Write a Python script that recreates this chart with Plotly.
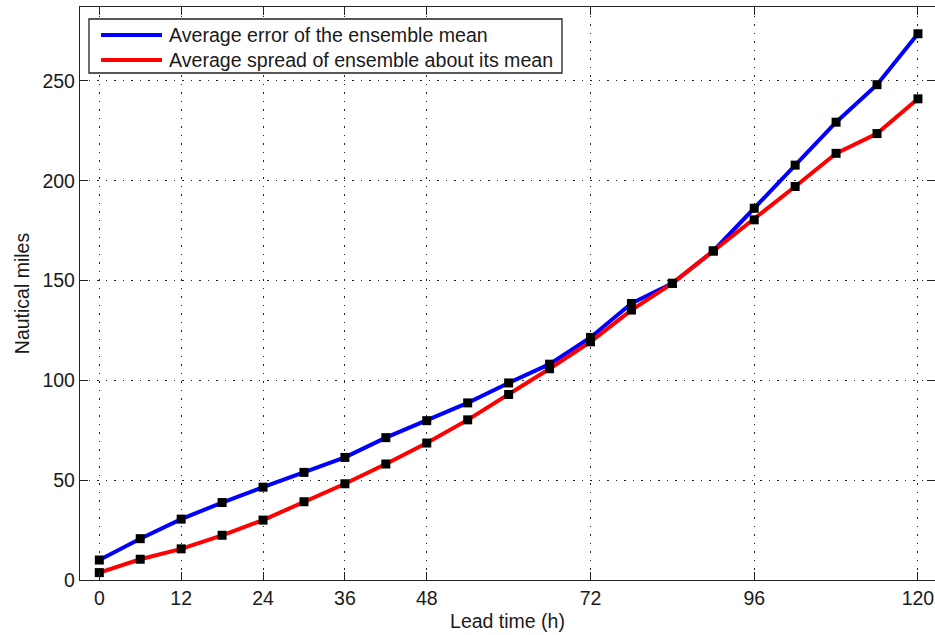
import plotly.graph_objects as go

# Forecast lead times (hours)
lead_time = [0, 6, 12, 18, 24, 30, 36, 42, 48, 54, 60, 66, 72, 78, 84, 90, 96, 102, 108, 114, 120]

# Average error of the ensemble mean (nautical miles)
mean_error = [10.0, 20.7, 30.5, 38.8, 46.5, 53.9, 61.4, 71.3, 79.8, 88.7, 98.7, 108.1, 121.5, 138.5,
              148.6, 164.8, 186.2, 207.8, 229.3, 248.1, 273.6]

# Average spread of the ensemble about its mean (nautical miles)
ensemble_spread = [3.7, 10.4, 15.6, 22.4, 30.0, 39.2, 48.2, 58.1, 68.6, 80.2, 92.9, 105.8, 119.3, 135.2,
                   148.6, 164.8, 180.4, 197.1, 213.7, 223.6, 241.0]

series_names = ["Average error of the ensemble mean", "Average spread of ensemble about its mean"]
series_colors = ["#0000ff", "#ff0000"]

x_ticks = [0, 12, 24, 36, 48, 72, 96, 120]
y_ticks = [0, 50, 100, 150, 200, 250]

FONT = "Liberation Sans, Arial, sans-serif"
TEXT = "#1a1a1a"
EDGE = "#222222"

fig = go.Figure()

for name, color, series in zip(series_names, series_colors, (mean_error, ensemble_spread)):
    fig.add_trace(go.Scatter(
        x=lead_time, y=series, mode="lines", name=name, showlegend=False,
        line=dict(color=color, width=4),
    ))
# square markers at each lead time for both series, drawn above the lines
for name, series in zip(series_names, (mean_error, ensemble_spread)):
    fig.add_trace(go.Scatter(
        x=lead_time, y=series, mode="markers", name=name, showlegend=False,
        marker=dict(symbol="square", size=9, color="black"),
    ))

axis_common = dict(
    showline=True, linecolor=EDGE, linewidth=1.3, mirror="ticks",
    ticks="inside", ticklen=8, tickwidth=1.2, tickcolor=EDGE,
    showgrid=True, gridcolor=EDGE, gridwidth=1, griddash="1.5px,7px",
    zeroline=False,
    tickfont=dict(family=FONT, size=19.5, color=TEXT),
)

fig.update_xaxes(
    range=[-2.83, 122.5], tickmode="array", tickvals=x_ticks,
    ticktext=[str(v) for v in x_ticks],
    title=dict(text="Lead time (h)", font=dict(family=FONT, size=19.5, color=TEXT), standoff=6),
    **axis_common,
)
fig.update_yaxes(
    range=[0, 287], tickmode="array", tickvals=y_ticks,
    ticktext=[str(v) for v in y_ticks],
    title=dict(text="Nautical miles", font=dict(family=FONT, size=19.5, color=TEXT), standoff=7),
    **axis_common,
)

# Legend box drawn in paper coordinates: frame, line samples and labels
legend_box = dict(x0=0.0105, x1=0.5637, y0=0.8848, y1=0.9791)
legend_rows_y = [0.9511, 0.9075]
sample_x = (0.0246, 0.0959)
label_x = 0.1017

shapes = [dict(type="rect", xref="paper", yref="paper", **legend_box,
               line=dict(color=EDGE, width=1.3), fillcolor="white", layer="above")]
annotations = []
for name, color, ry in zip(series_names, series_colors, legend_rows_y):
    shapes.append(dict(type="line", xref="paper", yref="paper",
                       x0=sample_x[0], x1=sample_x[1], y0=ry, y1=ry,
                       line=dict(color=color, width=4), layer="above"))
    annotations.append(dict(xref="paper", yref="paper", x=label_x, y=ry,
                            xanchor="left", yanchor="middle", showarrow=False,
                            text=name, font=dict(family=FONT, size=19.6, color=TEXT)))

fig.update_layout(
    width=935, height=635,
    margin=dict(l=80, r=0, t=7, b=55),
    paper_bgcolor="white", plot_bgcolor="white",
    font=dict(family=FONT, color=TEXT),
    showlegend=False,
    shapes=shapes,
    annotations=annotations,
)

fig.write_html("out.html")
